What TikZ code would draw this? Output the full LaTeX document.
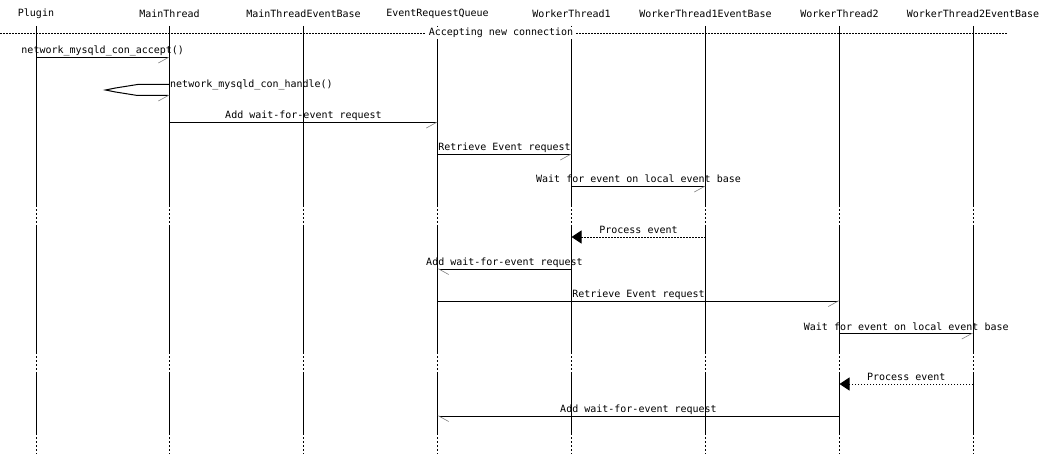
\documentclass[tikz,border=0pt]{standalone}
\usepackage{fontspec}
\setmonofont{DejaVu Sans Mono}
\usetikzlibrary{arrows.meta,calc}

\begin{document}
\begin{tikzpicture}[x=1pt, y=-1pt, font=\ttfamily\fontsize{10}{12}\selectfont,
    life/.style={line width=1pt},
    gap/.style={line width=1pt, dash pattern=on 2pt off 2pt},
    msg/.style={line width=1pt, -{Straight Barb[harpoon, swap, length=10pt, width=11pt, line width=0.6pt, color=gray]}},
    msgl/.style={line width=1pt, -{Straight Barb[harpoon, length=10pt, width=11pt, line width=0.6pt, color=gray]}},
    evt/.style={line width=1pt, dash pattern=on 1.5pt off 1.5pt, -{Triangle[length=10pt, width=13pt]}},
    lbl/.style={midway, above, inner sep=0.5pt, text height=7.5pt, text depth=2.5pt}]

    \useasboundingbox (0,0) rectangle (1040,454);

    % --- entities ---
    \node (plugin) at (36,14) {Plugin};
    \node (main) at (169.5,14) {MainThread};
    \node (mainbase) at (303.5,14) {MainThreadEventBase};
    \node (queue) at (437.5,14) {EventRequestQueue};
    \node (wt1) at (571.5,14) {WorkerThread1};
    \node (wt1base) at (705.5,14) {WorkerThread1EventBase};
    \node (wt2) at (839.5,14) {WorkerThread2};
    \node (wt2base) at (973,14) {WorkerThread2EventBase};

    % rows (y only)
    \coordinate (top) at (0,26);
    \coordinate (acc) at (0,57.5);
    \coordinate (selfa) at (0,84.5);
    \coordinate (selfb) at (0,95.5);
    \coordinate (add1) at (0,122.5);
    \coordinate (get1) at (0,154.5);
    \coordinate (wait1) at (0,186.5);
    \coordinate (gap1a) at (0,205);
    \coordinate (gap1b) at (0,225);
    \coordinate (proc1) at (0,237);
    \coordinate (add2) at (0,269);
    \coordinate (get2) at (0,301);
    \coordinate (wait2) at (0,333.5);
    \coordinate (gap2a) at (0,352);
    \coordinate (gap2b) at (0,372);
    \coordinate (proc2) at (0,384);
    \coordinate (add3) at (0,416);
    \coordinate (gap3a) at (0,433);
    \coordinate (bot) at (0,454);

    % --- lifelines ---
    \draw[life] (plugin |- top) -- (plugin |- gap1a) (plugin |- gap1b) -- (plugin |- gap2a) (plugin |- gap2b) -- (plugin |- gap3a);
    \draw[gap] (plugin |- gap1a) -- (plugin |- gap1b) (plugin |- gap2a) -- (plugin |- gap2b) (plugin |- gap3a) -- (plugin |- bot);
    \draw[life] (main |- top) -- (main |- gap1a) (main |- gap1b) -- (main |- gap2a) (main |- gap2b) -- (main |- gap3a);
    \draw[gap] (main |- gap1a) -- (main |- gap1b) (main |- gap2a) -- (main |- gap2b) (main |- gap3a) -- (main |- bot);
    \draw[life] (mainbase |- top) -- (mainbase |- gap1a) (mainbase |- gap1b) -- (mainbase |- gap2a) (mainbase |- gap2b) -- (mainbase |- gap3a);
    \draw[gap] (mainbase |- gap1a) -- (mainbase |- gap1b) (mainbase |- gap2a) -- (mainbase |- gap2b) (mainbase |- gap3a) -- (mainbase |- bot);
    \draw[life] (queue |- top) -- (queue |- gap1a) (queue |- gap1b) -- (queue |- gap2a) (queue |- gap2b) -- (queue |- gap3a);
    \draw[gap] (queue |- gap1a) -- (queue |- gap1b) (queue |- gap2a) -- (queue |- gap2b) (queue |- gap3a) -- (queue |- bot);
    \draw[life] (wt1 |- top) -- (wt1 |- gap1a) (wt1 |- gap1b) -- (wt1 |- gap2a) (wt1 |- gap2b) -- (wt1 |- gap3a);
    \draw[gap] (wt1 |- gap1a) -- (wt1 |- gap1b) (wt1 |- gap2a) -- (wt1 |- gap2b) (wt1 |- gap3a) -- (wt1 |- bot);
    \draw[life] (wt1base |- top) -- (wt1base |- gap1a) (wt1base |- gap1b) -- (wt1base |- gap2a) (wt1base |- gap2b) -- (wt1base |- gap3a);
    \draw[gap] (wt1base |- gap1a) -- (wt1base |- gap1b) (wt1base |- gap2a) -- (wt1base |- gap2b) (wt1base |- gap3a) -- (wt1base |- bot);
    \draw[life] (wt2 |- top) -- (wt2 |- gap1a) (wt2 |- gap1b) -- (wt2 |- gap2a) (wt2 |- gap2b) -- (wt2 |- gap3a);
    \draw[gap] (wt2 |- gap1a) -- (wt2 |- gap1b) (wt2 |- gap2a) -- (wt2 |- gap2b) (wt2 |- gap3a) -- (wt2 |- bot);
    \draw[life] (wt2base |- top) -- (wt2base |- gap1a) (wt2base |- gap1b) -- (wt2base |- gap2a) (wt2base |- gap2b) -- (wt2base |- gap3a);
    \draw[gap] (wt2base |- gap1a) -- (wt2base |- gap1b) (wt2base |- gap2a) -- (wt2base |- gap2b) (wt2base |- gap3a) -- (wt2base |- bot);

    % --- separator ---
    \coordinate (sepL) at (0,33);
    \coordinate (sepR) at (1007,33);
    \draw[line width=0.8pt, dash pattern=on 2pt off 1pt] (sepL) -- (sepR);
    \node[fill=white, inner xsep=3pt, inner ysep=1pt] (septxt) at (501,33) {Accepting new connection};

    % --- accept in main thread ---
    \draw[msg] (plugin |- acc) -- (main |- acc) node[lbl] {network\_mysqld\_con\_accept()};
    \draw[msg] (main |- selfa) -- ++(-32,0) -- ++(-22,3.5) -- ++(-10,2) -- ++(10,2) -- ++(22,3.5) -- (main |- selfb);
    \node[anchor=west, inner sep=0.5pt] (handle) at (main |- selfa) {network\_mysqld\_con\_handle()};
    \draw[msg] (main |- add1) -- (queue |- add1) node[lbl] {Add wait-for-event request};

    % --- worker thread 1 ---
    \draw[msg] (queue |- get1) -- (wt1 |- get1) node[lbl] {Retrieve Event request};
    \draw[msg] (wt1 |- wait1) -- (wt1base |- wait1) node[lbl] {Wait for event on local event base};
    \draw[evt] (wt1base |- proc1) -- (wt1 |- proc1) node[lbl] {Process event};
    \draw[msgl] (wt1 |- add2) -- (queue |- add2) node[lbl] {Add wait-for-event request};

    % --- worker thread 2 ---
    \draw[msg] (queue |- get2) -- (wt2 |- get2) node[lbl] {Retrieve Event request};
    \draw[msg] (wt2 |- wait2) -- (wt2base |- wait2) node[lbl] {Wait for event on local event base};
    \draw[evt] (wt2base |- proc2) -- (wt2 |- proc2) node[lbl] {Process event};
    \draw[msgl] (wt2 |- add3) -- (queue |- add3) node[lbl] {Add wait-for-event request};

\end{tikzpicture}
\end{document}
